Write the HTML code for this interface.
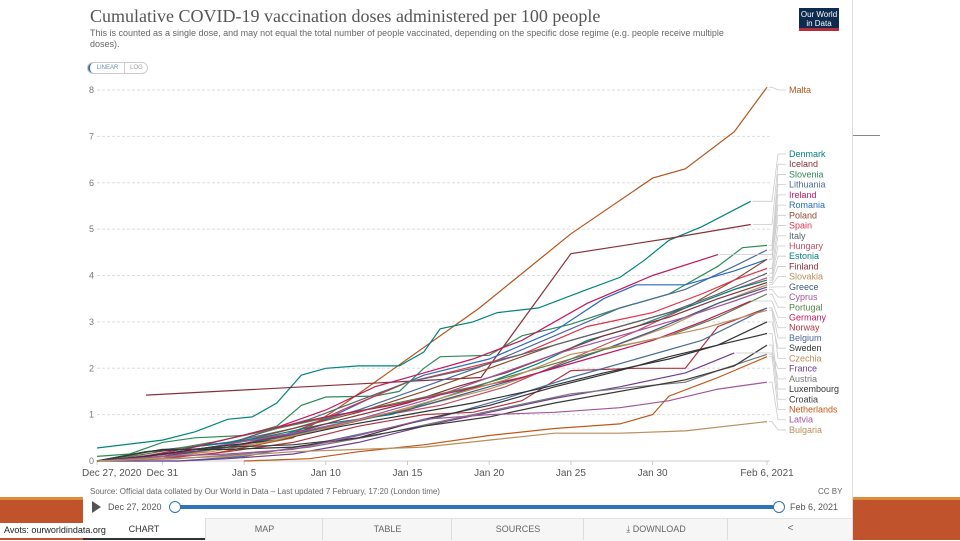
<!DOCTYPE html>
<html><head><meta charset="utf-8">
<style>
body{margin:0;width:960px;height:540px;position:relative;background:#fff;font-family:"Liberation Sans",sans-serif;overflow:hidden}
.abs{position:absolute}
</style></head><body>
<div class="abs" style="left:0;top:497px;width:960px;height:43px;background:#c0532b;border-top:3px solid #e08a3c;box-sizing:border-box"></div>
<div class="abs" style="left:83px;top:0;width:769px;height:540px;background:#fff;border-right:1px solid #ddd"></div>
<div class="abs" style="left:853px;top:135px;width:27px;height:1px;background:#888"></div>
<div class="abs" style="left:90px;top:6px;font-family:'Liberation Serif',serif;font-size:18px;color:#555">Cumulative COVID-19 vaccination doses administered per 100 people</div>
<div class="abs" style="left:90px;top:28px;width:660px;font-size:9px;line-height:11px;color:#666">This is counted as a single dose, and may not equal the total number of people vaccinated, depending on the specific dose regime (e.g. people receive multiple doses).</div>
<div class="abs" style="left:799px;top:8px;width:40px;height:23px;background:#0d2a4f;border-bottom:3px solid #b32d3b;color:#fff;font-size:8px;line-height:9px;text-align:center;padding-top:2px;box-sizing:border-box">Our World<br>in Data</div>
<div class="abs" style="left:87px;top:62px;width:61px;height:12px;border:1px solid #ccc;border-radius:7px;font-size:6px;color:#6b8fb5;box-sizing:border-box">
<span style="position:absolute;left:0;top:0;width:35px;height:10px;border-left:2px solid #3f6aa1;border-radius:6px;text-align:center;line-height:10px">LINEAR</span>
<span style="position:absolute;left:36px;top:0;width:23px;line-height:10px;text-align:center;color:#999;border-left:1px solid #ccc">LOG</span></div>

<svg class="abs" style="left:0;top:0" width="960" height="540">
<g id="grid"></g><g id="lines"></g><g id="labels"></g>
</svg>

<div class="abs" style="left:90px;top:487px;font-size:8px;color:#666">Source: Official data collated by Our World in Data – Last updated 7 February, 17:20 (London time)</div>
<div class="abs" style="left:818px;top:487px;font-size:8px;color:#666">CC BY</div>
<div class="abs" style="left:92px;top:501px;width:0;height:0;border-left:9px solid #555;border-top:6px solid transparent;border-bottom:6px solid transparent"></div>
<div class="abs" style="left:108px;top:502px;font-size:9px;color:#555">Dec 27, 2020</div>
<div class="abs" style="left:175px;top:505px;width:604px;height:4px;background:#2f73b8"></div>
<div class="abs" style="left:169px;top:501px;width:10px;height:10px;border:1px solid #2f73b8;border-radius:50%;background:#fff"></div>
<div class="abs" style="left:773px;top:501px;width:10px;height:10px;border:1px solid #2f73b8;border-radius:50%;background:#fff"></div>
<div class="abs" style="left:790px;top:502px;font-size:9px;color:#555">Feb 6, 2021</div>
<div class="abs" style="left:83px;top:518px;width:769px;height:22px;background:#f6f6f6;border-top:1px solid #e5e5e5"></div>
<div class="abs" style="left:83px;top:518px;width:122px;height:20px;background:#fff;border-bottom:2px solid #333;font-size:9px;color:#333;text-align:center;line-height:22px">CHART</div>
<div class="abs" style="left:205px;top:518px;width:117px;height:22px;border-left:1px solid #ddd;font-size:9px;color:#666;text-align:center;line-height:22px">MAP</div>
<div class="abs" style="left:322px;top:518px;width:129px;height:22px;border-left:1px solid #ddd;font-size:9px;color:#666;text-align:center;line-height:22px">TABLE</div>
<div class="abs" style="left:451px;top:518px;width:132px;height:22px;border-left:1px solid #ddd;font-size:9px;color:#666;text-align:center;line-height:22px">SOURCES</div>
<div class="abs" style="left:583px;top:518px;width:144px;height:22px;border-left:1px solid #ddd;font-size:9px;color:#666;text-align:center;line-height:22px">⤓ DOWNLOAD</div>
<div class="abs" style="left:727px;top:518px;width:125px;height:22px;border-left:1px solid #ddd;font-size:10px;color:#666;text-align:center;line-height:22px">&lt;</div>
<div class="abs" style="left:0;top:523px;width:124px;height:15px;background:#fff;font-size:9px;color:#222;line-height:15px;padding-left:4px;box-sizing:border-box">Avots: ourworldindata.org</div>

<script>
const yTicks=[0,1,2,3,4,5,6,7,8];
const xTickDays=[0,4,9,14,19,24,29,34,41];
const xTickLabels=["Dec 27, 2020","Dec 31","Jan 5","Jan 10","Jan 15","Jan 20","Jan 25","Jan 30","Feb 6, 2021"];
const countries=["Malta","Denmark","Iceland","Slovenia","Lithuania","Ireland","Romania","Poland","Spain","Italy","Hungary","Estonia","Finland","Slovakia","Greece","Cyprus","Portugal","Germany","Norway","Belgium","Sweden","Czechia","France","Austria","Luxembourg","Croatia","Netherlands","Latvia","Bulgaria"];
const colors=["#b5541b","#00847e","#883039","#2e8b57","#4c6a9c","#c2185b","#286bbb","#8c4a2f","#e0324b","#5a6570","#c15065","#00847e","#883039","#bc8e5a","#3a5a80","#a2559c","#578145","#c2185b","#b13540","#4c6a9c","#2d3436","#bc8e5a","#6d3e91","#777","#333","#3a3a3a","#c05917","#a2559c","#bc8e5a"];
const mal=[[0,0],[7,0.15],[12,0.5],[15,1.2],[23.4,3.3],[29,4.9],[34,6.1],[36,6.3],[39,7.1],[41,8.06]];
const den=[[0,0.28],[4,0.45],[6,0.63],[8,0.9],[9.5,0.95],[11,1.25],[12.5,1.85],[14,2.0],[16,2.05],[18.5,2.05],[20,2.35],[21,2.85],[23,3.0],[24.5,3.2],[27,3.3],[30,3.7],[32,3.96],[33.5,4.33],[35,4.76],[37,5.05],[40,5.6]];
const ice=[[3,1.42],[23.5,1.8],[29,4.47],[35,4.8],[40,5.1]];
const slo=[[0,0.1],[2,0.15],[4,0.4],[6,0.5],[9,0.55],[11,0.75],[12.5,1.2],[14,1.38],[17,1.4],[18.5,1.5],[20,2.0],[21,2.25],[24,2.28],[26,2.7],[29,2.95],[32,3.3],[35,3.6],[38,4.2],[39.5,4.6],[41,4.65]];
const lit=[[0,0],[3,0.2],[8,0.4],[12,0.7],[16,1.1],[20,1.6],[24,2.1],[28,2.7],[32,3.3],[36,3.7],[39,4.2],[41,4.55]];
const ire=[[0,0],[3,0.1],[7,0.25],[10,0.6],[14,1.1],[17,1.6],[20,1.9],[23,2.2],[26,2.6],[30,3.4],[34,4.0],[38,4.45]];
const rom=[[0,0],[3,0.2],[7,0.35],[11,0.5],[14,0.9],[17,1.4],[20,1.85],[24,2.2],[28,2.8],[31,3.5],[33,3.8],[36,3.8],[39,4.1],[41,4.35]];
const pol=[[0,0],[4,0.15],[8,0.35],[12,0.7],[16,1.05],[20,1.5],[24,2.0],[28,2.5],[32,2.9],[36,3.3],[39,3.9],[41,4.35]];
const spa=[[0,0],[3,0.05],[6,0.2],[9,0.35],[12,0.6],[15,1.1],[19,1.7],[22,1.95],[26,2.3],[30,2.9],[34,3.2],[37,3.6],[39,3.9],[41,4.15]];
const ita=[[0,0],[4,0.05],[7,0.25],[10,0.6],[13,0.9],[16,1.3],[19,1.7],[23,2.0],[27,2.4],[31,2.8],[35,3.2],[38,3.6],[41,4.05]];
const hun=[[0,0],[3,0.1],[7,0.3],[11,0.55],[14,0.7],[17,0.95],[21,1.2],[25,1.6],[29,2.2],[33,2.8],[36,3.3],[39,3.7],[41,3.95]];
const est=[[0,0],[3,0.2],[7,0.35],[10,0.5],[14,0.8],[18,1.0],[21,1.35],[24,1.7],[27,2.1],[30,2.6],[33,2.9],[36,3.3],[39,3.7],[41,3.9]];
const fin=[[0,0],[4,0.1],[8,0.3],[12,0.6],[15,0.9],[19,1.25],[22,1.6],[25,1.9],[28,2.3],[31,2.7],[35,3.1],[38,3.5],[41,3.85]];
const svk=[[0,0],[4,0.05],[8,0.3],[12,0.55],[16,0.9],[20,1.2],[24,1.55],[27,1.9],[31,2.4],[35,2.9],[38,3.4],[41,3.8]];
const gre=[[0,0],[4,0.1],[8,0.3],[11,0.5],[15,0.8],[19,1.1],[23,1.5],[27,1.9],[31,2.4],[34,2.8],[38,3.4],[41,3.75]];
const cyp=[[0,0],[3,0.1],[7,0.3],[12,0.6],[16,0.9],[20,1.3],[24,1.8],[28,2.3],[32,2.7],[36,3.1],[39,3.45],[41,3.7]];
const por=[[0,0],[3,0.15],[7,0.4],[11,0.7],[15,1.0],[19,1.3],[23,1.6],[27,2.0],[31,2.4],[35,2.7],[38,3.1],[41,3.6]];
const ger=[[0,0],[2,0.05],[6,0.3],[10,0.65],[14,0.95],[18,1.2],[22,1.5],[26,1.8],[30,2.2],[34,2.6],[37,3.0],[40,3.45]];
const nor=[[0,0],[4,0.05],[8,0.2],[12,0.4],[16,0.75],[20,1.0],[23,1.05],[26,1.3],[29,1.95],[33,2.0],[36,2.0],[38,2.9],[41,3.3]];
const bel=[[0,0],[5,0],[9,0.1],[13,0.35],[17,0.65],[21,0.95],[25,1.35],[29,1.8],[33,2.2],[37,2.6],[41,3.3]];
const swe=[[0,0],[3,0.1],[7,0.3],[11,0.45],[15,0.75],[19,1.0],[23,1.25],[27,1.55],[31,1.9],[35,2.2],[38,2.5],[41,3.0]];
const cze=[[0,0],[3,0.05],[7,0.2],[11,0.45],[15,0.8],[18,1.05],[21,1.35],[25,1.75],[29,2.3],[33,2.55],[37,2.85],[41,3.25]];
const fra=[[0,0],[5,0],[8,0.05],[12,0.15],[16,0.4],[20,0.75],[24,1.05],[28,1.35],[32,1.6],[36,1.9],[39,2.33]];
const aut=[[0,0],[5,0.05],[9,0.15],[13,0.3],[17,0.55],[21,0.85],[25,1.15],[29,1.45],[33,1.6],[36,1.7],[38,1.95],[41,2.3]];
const lux=[[0,0],[4,0.25],[8,0.25],[12,0.3],[16,0.5],[20,0.9],[24,1.2],[28,1.6],[32,1.95],[35,2.25],[38,2.5],[41,2.75]];
const cro=[[0,0],[3,0.2],[8,0.3],[12,0.35],[16,0.5],[20,0.75],[24,0.95],[28,1.25],[32,1.5],[36,1.75],[39,2.05],[41,2.5]];
const net=[[9,0],[13,0.05],[16,0.2],[20,0.35],[24,0.55],[28,0.7],[32,0.8],[34,1.0],[35,1.4],[38,1.8],[41,2.25]];
const lat=[[0,0],[4,0.1],[8,0.15],[12,0.25],[16,0.55],[20,0.9],[24,1.0],[28,1.05],[32,1.15],[35,1.3],[38,1.55],[41,1.7]];
const bul=[[0,0],[4,0.05],[8,0.1],[12,0.2],[16,0.25],[20,0.3],[24,0.45],[28,0.6],[32,0.6],[36,0.65],[41,0.85]];
const series=[mal,den,ice,slo,lit,ire,rom,pol,spa,ita,hun,est,fin,svk,gre,cyp,por,ger,nor,bel,swe,cze,fra,aut,lux,cro,net,lat,bul];

const X0=97,X1=767,DMAX=41,Y0=461,Y1=90,VMAX=8;
const xs=d=>X0+(X1-X0)*d/DMAX;
const ys=v=>Y0-(Y0-Y1)*v/VMAX;
const NS="http://www.w3.org/2000/svg";
function mk(tag,attrs,parent){const e=document.createElementNS(NS,tag);for(const k in attrs)e.setAttribute(k,attrs[k]);parent.appendChild(e);return e;}
const grid=document.getElementById('grid'),lines=document.getElementById('lines'),labs=document.getElementById('labels');
yTicks.forEach(t=>{
  const l=mk('line',{x1:X0,x2:770,y1:ys(t),y2:ys(t),stroke:'#ddd','stroke-dasharray':'3,2'},grid);
  
  
  const tx=mk('text',{x:89,y:ys(t)+3,'font-size':9,fill:'#777','font-family':'Liberation Sans'},grid);
  tx.textContent=t;
  
  
});
xTickDays.forEach((d,i)=>{
  const tk=mk('line',{x1:xs(d),x2:xs(d),y1:Y0,y2:Y0+4,stroke:'#ccc'},grid);
  
  
  const tx=mk('text',{x:i==0?X0-15:xs(d),y:476,'font-size':10,fill:'#555','text-anchor':i==0?'start':'middle','font-family':'Liberation Sans'},grid);
  tx.textContent=xTickLabels[i];
  
  
});
mk('line',{x1:X0,x2:770,y1:Y0,y2:Y0,stroke:'#ccc'},grid);
series.forEach((pts,i)=>{
  const p=mk('polyline',{points:pts.map(q=>xs(q[0]).toFixed(1)+','+ys(q[1]).toFixed(1)).join(' '),fill:'none',stroke:colors[i],'stroke-width':1.2},lines);
  
  
  const last=pts[pts.length-1];
  const ly=i==0?90:154+(i-1)*10.22;
  const ex=xs(last[0]),ey=ys(last[1]);
  const c=mk('polyline',{points:`${ex+2},${ey} 772,${ey} ${778},${ly} 786,${ly}`,fill:'none',stroke:'#ccc','stroke-width':0.8},labs);
  
  
  const t=mk('text',{x:789,y:ly+3,'font-size':9,fill:colors[i],'font-family':'Liberation Sans'},labs);
  t.textContent=countries[i];
  
  
});
</script>
</body></html>
